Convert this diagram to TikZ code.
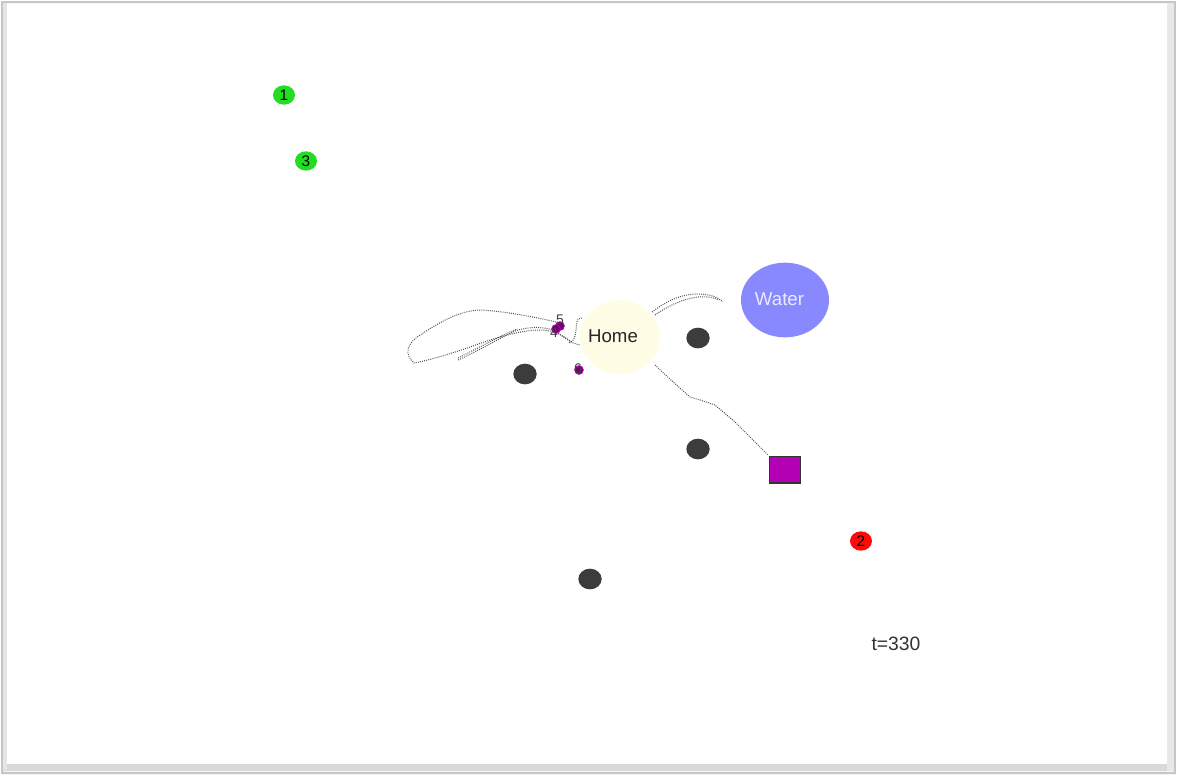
\documentclass[tikz,border=0pt]{standalone}
\usepackage{fontspec}
\setmainfont{Liberation Sans}
\usetikzlibrary{shapes.geometric}
\definecolor{homecol}{RGB}{255,253,230}
\definecolor{watercol}{RGB}{136,136,255}
\definecolor{rockcol}{RGB}{60,60,60}
\definecolor{agentgreen}{RGB}{34,221,34}
\definecolor{agentred}{RGB}{255,10,10}
\definecolor{boxcol}{RGB}{180,0,180}
\definecolor{antcol}{RGB}{110,0,110}
\definecolor{trailcol}{RGB}{80,80,80}
\tikzset{
  agent/.style={ellipse,minimum width=16.5pt,minimum height=14.5pt,inner sep=0pt,font=\fontsize{11.5}{11.5}\selectfont},
  rock/.style={ellipse,fill=rockcol,minimum width=17.5pt,minimum height=15.5pt,inner sep=0pt},
  ant/.style={circle,fill=antcol,draw=boxcol,line width=0.6pt,minimum size=6.5pt,inner sep=0pt},
  antlabel/.style={font=\fontsize{10.5}{10.5}\selectfont,text=black!75,inner sep=0pt},
  trail/.style={draw=trailcol,line width=0.75pt,dash pattern=on 0.7pt off 0.9pt},
  bigtext/.style={font=\fontsize{14}{14}\selectfont,inner sep=0pt}
}
\begin{document}
\begin{tikzpicture}[x=0.75pt,y=-0.75pt]
\useasboundingbox (0,0) rectangle (1177,776);
\fill[white] (0,0) rectangle (1177,776);
% frame with shadow
\fill[gray!8] (1,1) rectangle (1176,775);
\fill[gray!30] (3,762) rectangle (1176,771);
\fill[gray!18] (1167,3) rectangle (1175,771);
\fill[gray!20] (3,3) rectangle (7,770);
\fill[white] (7,4) rectangle (1167,764);
\draw[gray!45,line width=0.8pt] (2,2) rectangle (1175,773);

% trails
\draw[trail] (582,318) .. controls (576,318) and (577,322) .. (576,330) .. controls (575,338) and (574,342) .. (568,343);
\draw[trail] (458,360) .. controls (480,350) and (500,338) .. (515,331) .. controls (530,326) and (548,326) .. (558,333) .. controls (565,338) and (570,343) .. (580,345);
\draw[trail] (458,358) .. controls (480,347) and (500,336) .. (517,329);
\draw[trail] (560,323) .. controls (540,318) and (510,312) .. (482,310) .. controls (460,310) and (440,322) .. (420,335) .. controls (405,345) and (405,355) .. (414,363) .. controls (430,360) and (450,354) .. (470,347) .. controls (495,338) and (520,330) .. (540,330) .. controls (555,330) and (563,336) .. (572,342);
\draw[trail] (652,312) .. controls (665,302) and (680,294) .. (698,294) .. controls (710,294) and (718,297) .. (723,302);
\draw[trail] (655,315) .. controls (668,306) and (682,299) .. (698,297) .. controls (708,296) and (715,298) .. (719,300);
\draw[trail] (655,365) -- (672,381) -- (690,397) -- (700,400) -- (715,405) -- (735,422) -- (768,455);

% home and water
\node[ellipse,fill=homecol,minimum width=60pt,minimum height=55.5pt,inner sep=0pt] (home) at (620,337) {};
\node[bigtext,text=black!85] (homelabel) at (613,336) {Home};
\node[ellipse,fill=watercol,minimum width=66pt,minimum height=56pt,inner sep=0pt] (water) at (785,300) {};
\node[bigtext,text=white!92!blue] (waterlabel) at (779.5,299) {Water};

% rocks
\node[rock] (r1) at (698,338) {};
\node[rock] (r2) at (525,374) {};
\node[rock] (r3) at (698,449) {};
\node[rock] (r4) at (590,579) {};

% box
\node[rectangle,fill=boxcol,draw=black!80,line width=1pt,minimum width=23pt,minimum height=20pt,inner sep=0pt] (box) at (785,469.5) {};

% ants
\node[ant] (a5) at (560,326) {};
\node[ant] (a4) at (556,329) {};
\node[ant] (a6) at (579,370) {};
\node[antlabel] (l5) at (560,320) {5};
\node[antlabel] (l4) at (554,333) {4};
\node[antlabel] (l6) at (578,369) {6};

% agents
\node[agent,fill=agentgreen] (g1) at (284,95) {1};
\node[agent,fill=agentgreen] (g3) at (306,161) {3};
\node[agent,fill=agentred] (g2) at (861,541) {2};

% time
\node[font=\fontsize{14.5}{14.5}\selectfont,text=black!80] (time) at (896,644) {t=330};
\end{tikzpicture}
\end{document}
